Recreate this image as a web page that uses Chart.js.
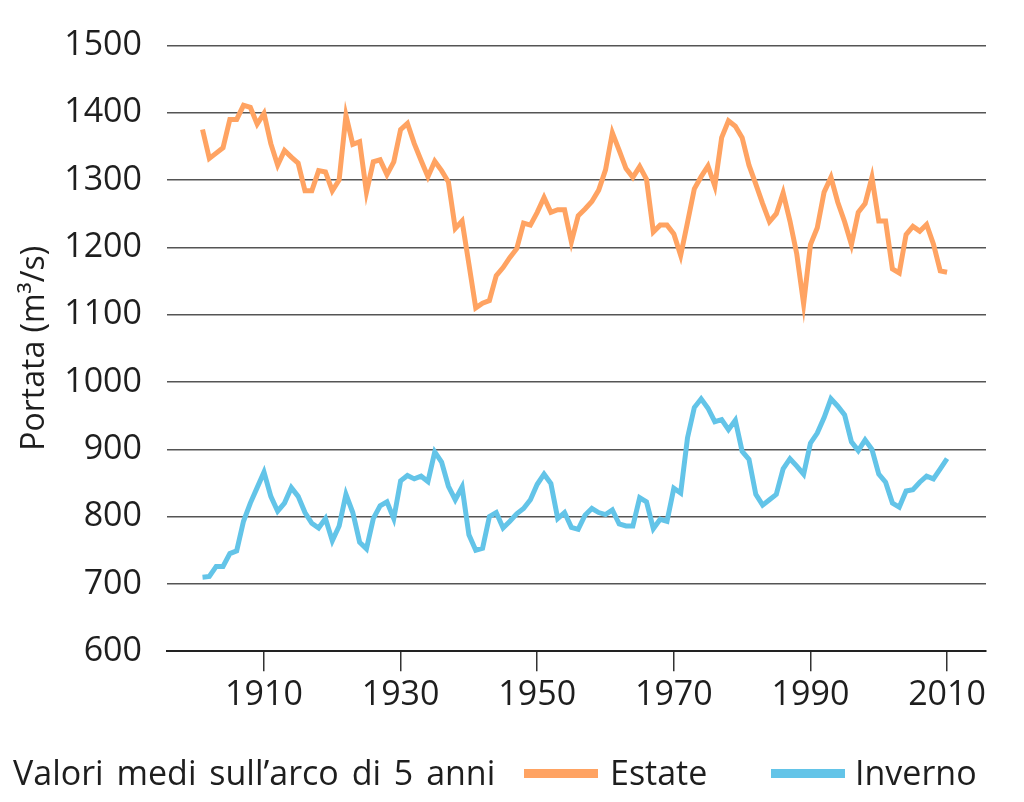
<!DOCTYPE html>
<html>
<head>
<meta charset="utf-8">
<script src="https://cdn.jsdelivr.net/npm/chart.js@4.4.1/dist/chart.umd.min.js"></script>
<style>
  body { margin: 0; background: #fff; }
  #wrap { position: relative; width: 1024px; height: 802px; font-family: "Open Sans", sans-serif; color: #1e1e1e; }
  .leg { position: absolute; top: 755px; height: 34px; line-height: 34px; font-size: 34px; font-weight: 400; white-space: nowrap; }
  .sw { position: absolute; top: 769px; height: 9px; width: 74px; }
</style>
</head>
<body>
<div id="wrap">
  <canvas id="lineChart" width="1024" height="802"></canvas>
  <span class="leg" style="left:13px;word-spacing:4px">Valori medi sull’arco di 5 anni</span>
  <span class="sw" style="left:524px;background:#ffa362"></span>
  <span class="leg" style="left:610px">Estate</span>
  <span class="sw" style="left:771px;background:#63c4e8"></span>
  <span class="leg" style="left:855px">Inverno</span>
</div>
<script>
// Years (5-year running means)
const years = [
  1901, 1902, 1903, 1904, 1905, 1906, 1907, 1908, 1909, 1910,
  1911, 1912, 1913, 1914, 1915, 1916, 1917, 1918, 1919, 1920,
  1921, 1922, 1923, 1924, 1925, 1926, 1927, 1928, 1929, 1930,
  1931, 1932, 1933, 1934, 1935, 1936, 1937, 1938, 1939, 1940,
  1941, 1942, 1943, 1944, 1945, 1946, 1947, 1948, 1949, 1950,
  1951, 1952, 1953, 1954, 1955, 1956, 1957, 1958, 1959, 1960,
  1961, 1962, 1963, 1964, 1965, 1966, 1967, 1968, 1969, 1970,
  1971, 1972, 1973, 1974, 1975, 1976, 1977, 1978, 1979, 1980,
  1981, 1982, 1983, 1984, 1985, 1986, 1987, 1988, 1989, 1990,
  1991, 1992, 1993, 1994, 1995, 1996, 1997, 1998, 1999, 2000,
  2001, 2002, 2003, 2004, 2005, 2006, 2007, 2008, 2009, 2010
];

// Summer discharge (m3/s)
const estate = [
  1375, 1332, 1340, 1348, 1390, 1390, 1411, 1408, 1383, 1399,
  1354, 1322, 1344, 1334, 1325, 1284, 1284, 1314, 1312, 1284,
  1300, 1396, 1353, 1357, 1282, 1327, 1330, 1308, 1327, 1375,
  1384, 1354, 1329, 1305, 1328, 1314, 1297, 1228, 1239, 1175,
  1110, 1117, 1121, 1158, 1170, 1185, 1198, 1236, 1233, 1252,
  1274, 1252, 1256, 1256, 1208, 1247, 1257, 1268, 1285, 1315,
  1370, 1344, 1317, 1304, 1320, 1301, 1223, 1233, 1233, 1220,
  1188, 1237, 1287, 1305, 1321, 1291, 1363, 1388, 1380, 1363,
  1322, 1294, 1265, 1238, 1250, 1281, 1239, 1190, 1116, 1204,
  1229, 1282, 1304, 1267, 1238, 1204, 1252, 1265, 1304, 1239,
  1239, 1168, 1162, 1219, 1231, 1224, 1234, 1205, 1165, 1163
];

// Winter discharge (m3/s)
const inverno = [
  710, 711, 726, 726, 745, 749, 793, 820, 843, 866,
  830, 808, 820, 843, 830, 806, 790, 783, 797, 764,
  786, 833, 806, 762, 752, 797, 816, 822, 797, 853,
  861, 856, 860, 852, 896, 881, 845, 825, 844, 773,
  750, 753, 800, 806, 783, 793, 804, 812, 825, 848,
  863, 849, 797, 806, 784, 781, 802, 812, 806, 803,
  810, 789, 786, 786, 828, 822, 782, 796, 793, 842,
  835, 917, 962, 975, 961, 941, 944, 929, 943, 897,
  885, 833, 817, 825, 833, 871, 886, 875, 863, 909,
  924, 947, 975, 964, 951, 911, 898, 914, 900, 863,
  851, 820, 814, 838, 840, 851, 860, 856, 871, 886
];

const xTicks = [1910, 1930, 1950, 1970, 1990, 2010];
const yTicks = [600, 700, 800, 900, 1000, 1100, 1200, 1300, 1400, 1500];

const toPoints = vals => vals.map((v, i) => ({ x: years[i], y: v }));
const fontFamily = '"Open Sans", sans-serif';

const ctx = document.getElementById('lineChart').getContext('2d');
const chart = new Chart(ctx, {
  type: 'line',
  data: {
    datasets: [
      {
        label: 'Estate',
        data: toPoints(estate),
        borderColor: '#ffa362',
        borderWidth: 5,
        pointRadius: 0,
        tension: 0
      },
      {
        label: 'Inverno',
        data: toPoints(inverno),
        borderColor: '#63c4e8',
        borderWidth: 5,
        pointRadius: 0,
        tension: 0
      }
    ]
  },
  options: {
    responsive: false,
    animation: false,
    layout: { padding: { left: 0, right: 38, top: 45, bottom: 82 } },
    plugins: {
      legend: { display: false },
      tooltip: { enabled: false }
    },
    scales: {
      x: {
        type: 'linear',
        min: 1895.8,
        max: 2015.7,
        afterBuildTicks: axis => { axis.ticks = xTicks.map(v => ({ value: v })); },
        grid: {
          drawOnChartArea: false,
          drawTicks: true,
          tickLength: 20,
          tickColor: '#333',
          lineWidth: 1.5
        },
        border: { display: true, color: '#222', width: 2 },
        ticks: {
          padding: 4,
          maxRotation: 0,
          color: '#1e1e1e',
          font: { family: fontFamily, size: 34 },
          callback: v => String(v)
        }
      },
      y: {
        min: 600,
        max: 1500,
        afterBuildTicks: axis => { axis.ticks = yTicks.map(v => ({ value: v })); },
        afterFit: axis => { axis.width = 167; },
        grid: {
          color: '#555',
          lineWidth: 1.5,
          drawTicks: false
        },
        border: { display: false },
        ticks: {
          padding: 25,
          color: '#1e1e1e',
          font: { family: fontFamily, size: 34 },
          callback: v => String(v)
        },
        title: {
          display: true,
          text: 'Portata (m³/s)',
          color: '#1e1e1e',
          font: { family: fontFamily, size: 32, lineHeight: 1.2 },
          padding: { top: 16, bottom: 10 }
        }
      }
    }
  }
});
</script>
</body>
</html>
